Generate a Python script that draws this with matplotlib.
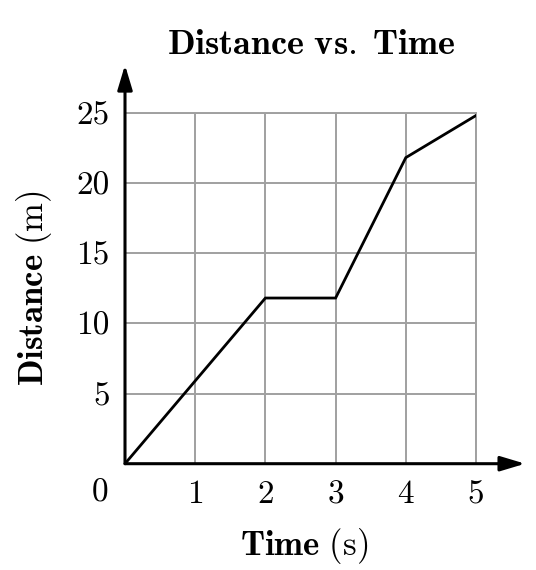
import matplotlib
matplotlib.use('Agg')
import matplotlib.pyplot as plt

# distance-time readings (piecewise linear)
time_s = [0, 2, 3, 4, 5]
distance_m = [0, 11.8, 11.8, 21.8, 24.8]

x_ticks = [1, 2, 3, 4, 5]
y_ticks = [5, 10, 15, 20, 25]

plt.rcParams['mathtext.fontset'] = 'cm'
plt.rcParams['font.family'] = 'cmr10'
plt.rcParams['axes.unicode_minus'] = False

fig = plt.figure(figsize=(5.36, 5.70), dpi=100)
ax = fig.add_axes([125 / 536, 106.3 / 570, 351 / 536, 351 / 570])

ax.set_xlim(0, 5)
ax.set_ylim(0, 25)

ax.set_xticks(x_ticks)
ax.set_yticks(y_ticks)
ax.set_xticklabels([str(t) for t in x_ticks], fontsize=24)
ax.set_yticklabels([str(t) for t in y_ticks], fontsize=24)
ax.tick_params(axis='x', length=0, pad=12)
ax.tick_params(axis='y', length=0, pad=11)

ax.grid(True, color='#a0a0a0', linewidth=1.4)
ax.set_axisbelow(True)

for side in ['left', 'bottom']:
    ax.spines[side].set_visible(False)
for side in ['top', 'right']:
    ax.spines[side].set_color('#a0a0a0')
    ax.spines[side].set_linewidth(1.4)

ax.plot(time_s, distance_m, color='black', linewidth=2.0, solid_joinstyle='miter', zorder=3)

# axes with arrow heads
arrow = dict(arrowstyle='-|>,head_length=1.5,head_width=0.45', color='black',
             linewidth=2.2, shrinkA=0, shrinkB=0)
ax.annotate('', xy=(5.7, 0), xytext=(0, 0), arrowprops=arrow, annotation_clip=False)
ax.annotate('', xy=(0, 28.4), xytext=(0, 0), arrowprops=arrow, annotation_clip=False)

ax.annotate('0', xy=(0, 0), xytext=(-25, -29), textcoords='offset pixels',
            ha='center', va='center', fontsize=24, annotation_clip=False)

ax.set_title(r'$\mathbf{Distance\ vs.\;Time}$', fontsize=26, pad=42, x=0.53)
ax.set_xlabel(r'$\mathbf{Time}\ \mathrm{(s)}$', fontsize=25, labelpad=12, x=0.51)
ax.set_ylabel(r'$\mathbf{Distance}\ \mathrm{(m)}$', fontsize=25, labelpad=16)

fig.savefig('out.png', dpi=100, facecolor='white')
